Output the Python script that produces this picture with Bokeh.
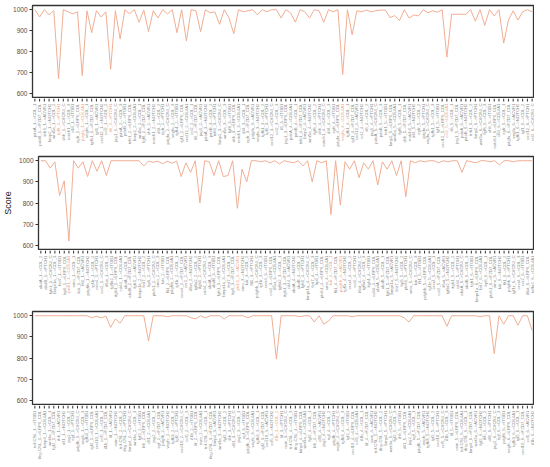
import math
from bokeh.plotting import figure
from bokeh.models import FactorRange, Range1d, ColumnDataSource, FixedTicker
from bokeh.layouts import column
from bokeh.embed import file_html
from bokeh.resources import INLINE
from bokeh.core.properties import value

# ---- data ----
score_panel1 = [1000, 965, 1000, 975, 995, 670, 1000, 990, 980, 990,
                685, 995, 890, 995, 965, 990, 715, 995, 860, 1000,
                980, 1000, 940, 998, 895, 995, 960, 1000, 980, 1000,
                890, 1000, 850, 1000, 995, 895, 1000, 985, 990, 930,
                1000, 960, 885, 1000, 990, 995, 1000, 975, 1000, 990,
                1000, 1000, 960, 1000, 985, 940, 1000, 990, 960, 1000,
                995, 940, 1000, 990, 1000, 690, 1000, 880, 995, 990,
                998, 990, 995, 998, 998, 962, 972, 948, 1000, 960,
                975, 970, 1000, 985, 995, 988, 1000, 773, 978, 978,
                978, 978, 1000, 945, 1000, 925, 1000, 970, 1000, 840,
                950, 995, 950, 990, 1000, 990]

score_panel2 = [1000, 1000, 965, 995, 835, 905, 620, 1000, 965, 995,
                925, 1000, 950, 1000, 930, 1000, 1000, 1000, 1000, 1000,
                1000, 1000, 975, 998, 993, 998, 985, 998, 988, 998,
                925, 990, 945, 1000, 800, 1000, 995, 930, 1000, 925,
                930, 1000, 775, 960, 900, 1000, 1000, 995, 1000, 990,
                1000, 985, 1000, 995, 990, 1000, 975, 1000, 900, 1000,
                990, 1000, 745, 1000, 790, 995, 960, 1000, 920, 990,
                960, 1000, 885, 995, 960, 1000, 930, 1000, 830, 1000,
                990, 1000, 995, 1000, 1000, 990, 1000, 995, 1000, 1000,
                945, 1000, 995, 990, 1000, 1000, 995, 1000, 980, 1000,
                1000, 995, 1000, 1000, 1000, 1000]

score_panel3 = [1000, 1000, 1000, 1000, 1000, 1000, 1000, 1000, 1000, 1000,
                1000, 1000, 990, 998, 990, 998, 945, 985, 965, 1000,
                1000, 1000, 1000, 1000, 880, 1000, 1000, 1000, 995, 1000,
                1000, 1000, 1000, 990, 985, 1000, 990, 1000, 1000, 1000,
                985, 1000, 1000, 1000, 1000, 990, 1000, 1000, 1000, 1000,
                1000, 795, 1000, 1000, 1000, 1000, 995, 1000, 1000, 970,
                1000, 960, 975, 1000, 1000, 1000, 1000, 995, 1000, 1000,
                1000, 1000, 1000, 1000, 1000, 1000, 1000, 1000, 990, 970,
                1000, 1000, 1000, 1000, 1000, 1000, 1000, 950, 1000, 1000,
                1000, 1000, 1000, 1000, 995, 1000, 1000, 820, 1000, 960,
                1000, 1000, 955, 1000, 1000, 930]

senders_panel1 = ["pdeA", "pdeB", "tnfr1", "bmp2", "wnt5a", "fgf8", "shh", "notch1",
                  "dll4", "egfr", "pdgfa", "vegfa", "tgfb1", "igf1", "cxcl12", "ccl2",
                  "il6", "jag1"]
senders_panel2 = ["abdA", "abdB", "fgfr1", "bmpr1a", "fzd7", "lrp6", "ptch1", "smo",
                  "kdr", "flt1", "pdgfrb", "igf1r", "cxcr4", "ccr2", "il6st", "tgfbr2",
                  "itgb1", "cd44"]
senders_panel3 = ["tnf-CSL", "ifng-CSL", "bmp4", "wnt3a", "fgf2", "ihh", "dll1", "jag2",
                  "egf", "pdgfb", "vegfc", "tgfb3", "igf2", "cxcl10", "ccl5", "il1b",
                  "lif", "osm"]
targets = ["COL_1", "COL_2", "ITGB1", "FZD7_COL", "PTCH1", "LRP6_COL", "ACVR1",
           "CXCR4_C", "COL4A1", "NOTCH2", "COL_3"]

threshold = 800
line_color = "#F0AE94"
label_color = "#8A8A8A"
highlight_color = "#F2A07E"
FONT = "Liberation Sans"


def make_labels(senders, offset):
    n = len(senders)
    return [f"{senders[i % n]}_{i // n + 1}-->{targets[(i * 3 + offset) % len(targets)]}"
            for i in range(106)]


labels_panel1 = make_labels(senders_panel1, 0)
labels_panel2 = make_labels(senders_panel2, 1)
labels_panel3 = make_labels(senders_panel3, 2)


def panel(labels, scores, top, frame_h, label_h, ylabel=None):
    xr = FactorRange(factors=labels)
    p = figure(x_range=xr, y_range=Range1d(580, 1020),
               width=534, height=top + frame_h + 1, output_backend="svg",
               toolbar_location=None, min_border_left=32, min_border_right=0,
               min_border_top=top, min_border_bottom=1,
               background_fill_color="white", border_fill_color="white")
    src = ColumnDataSource(dict(label=labels, score=scores))
    p.line(x="label", y="score", source=src, line_color=line_color, line_width=1)
    p.xgrid.visible = False
    p.ygrid.visible = False
    p.xaxis.visible = False
    p.outline_line_color = "#333333"
    p.outline_line_width = 1.3

    ya = p.yaxis[0]
    ya.ticker = FixedTicker(ticks=[600, 700, 800, 900, 1000])
    ya.axis_line_color = None
    ya.major_tick_out = 3
    ya.major_tick_in = 0
    ya.major_tick_line_color = "#333333"
    ya.minor_tick_line_color = None
    ya.major_label_text_font = FONT
    ya.major_label_text_font_size = "6.5px"
    ya.major_label_text_color = "#4D4D4D"
    ya.major_label_standoff = 2
    if ylabel:
        ya.axis_label = ylabel
        ya.axis_label_text_font = FONT
        ya.axis_label_text_font_size = "9px"
        ya.axis_label_text_font_style = "normal"
        ya.axis_label_text_color = "#1A1A1A"
        ya.axis_label_standoff = 3

    # tick + tick-label strip, sharing the categorical x range (y in pixels)
    colors = [highlight_color if s < threshold else label_color for s in scores]
    q = figure(x_range=xr, y_range=Range1d(-label_h, 0), width=534, height=label_h,
               output_backend="svg", toolbar_location=None, min_border_left=32,
               min_border_right=0, min_border_top=0, min_border_bottom=0,
               background_fill_color="white", border_fill_color="white")
    q.axis.visible = False
    q.grid.visible = False
    q.outline_line_color = None
    n = len(labels)
    lsrc = ColumnDataSource(dict(label=labels, color=colors,
                                 t0=[0] * n, t1=[-3] * n, ty=[-5] * n))
    q.segment(x0="label", y0="t0", x1="label", y1="t1", source=lsrc,
              line_color="#333333", line_width=1)
    q.text(x="label", y="ty", text="label", source=lsrc, angle=math.pi / 2,
           text_align="right", text_baseline="middle", text_color="color",
           text_font=value(FONT), text_font_size="4.3px")
    return column(p, q, spacing=0)


c1 = panel(labels_panel1, score_panel1, 5, 92, 55)
c2 = panel(labels_panel2, score_panel2, 3, 93, 58, ylabel="Score")
c3 = panel(labels_panel3, score_panel3, 3, 93, 55)

layout = column(c1, c2, c3, spacing=0)
open("out.html", "w").write(file_html(layout, INLINE))
